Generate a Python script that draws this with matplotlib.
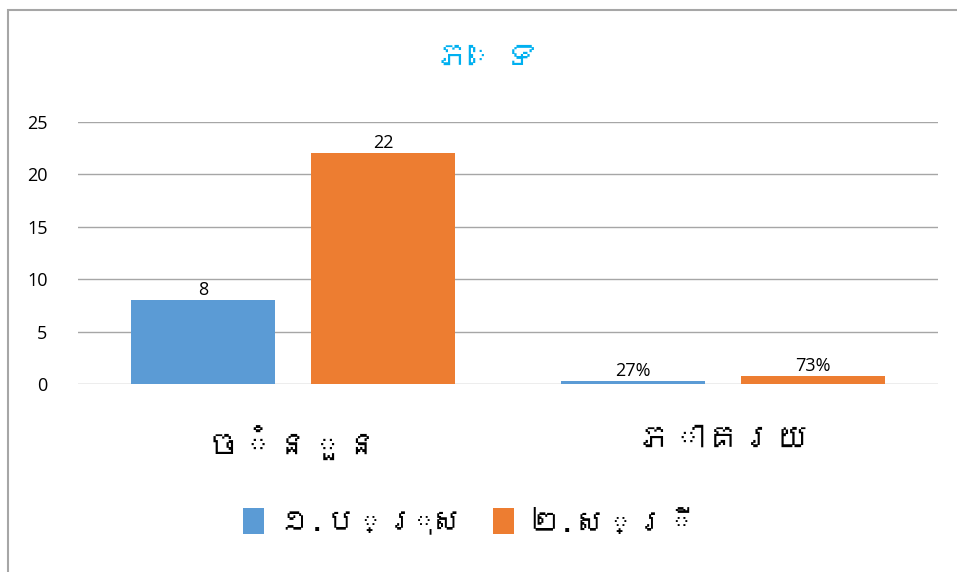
import matplotlib
matplotlib.use('Agg')
import matplotlib.pyplot as plt
from matplotlib import font_manager
from matplotlib.patches import Rectangle
import numpy as np

categories = ['ចំនួន', 'ភាគរយ']
series_names = ['១.ប្រុស', '២.ស្រី']
men = [8, 0.27]
women = [22, 0.73]
men_labels = ['8', '27%']
women_labels = ['22', '73%']
title = 'ភេទ'
yticks = [0, 5, 10, 15, 20, 25]

# look for an installed font that has Khmer glyphs
khmer_font = None
for path in font_manager.findSystemFonts():
    try:
        from fontTools.ttLib import TTFont
        tt = TTFont(path, fontNumber=0, lazy=True)
        cmap = tt.getBestCmap() or {}
        if 0x1797 in cmap and 0x1785 in cmap:
            khmer_font = font_manager.FontProperties(fname=path).get_name()
            break
    except Exception:
        pass

kh_family = ([khmer_font] if khmer_font else []) + ['DejaVu Sans']
num_family = ['Open Sans', 'DejaVu Sans']

W, H = 957, 572
fig = plt.figure(figsize=(W / 100, H / 100), dpi=100)
ax = fig.add_axes([78 / W, 1 - 384 / H, 860 / W, (384 - 122) / H])

x = np.arange(len(categories))
bw = 0.335
gap = 0.084
off = (bw + gap) / 2
b1 = ax.bar(x - off, men, bw, color='#5B9BD5', label=series_names[0])
b2 = ax.bar(x + off, women, bw, color='#ED7D31', label=series_names[1])

for bars, labs in ((b1, men_labels), (b2, women_labels)):
    for r, t in zip(bars, labs):
        ax.text(r.get_x() + r.get_width() / 2, r.get_height() + 0.1, t,
                ha='center', va='bottom', fontsize=13, family=num_family)

ax.set_xlim(-0.5, 1.5)
ax.set_ylim(0, 25)
ax.set_yticks(yticks)
ax.set_yticklabels([str(v) for v in yticks], family=num_family, fontsize=13)
ax.set_xticks(x)
ax.set_xticklabels(categories, family=kh_family, fontsize=25)
ax.tick_params(axis='both', length=0)
ax.tick_params(axis='y', pad=22)
ax.tick_params(axis='x', pad=30)
ax.grid(axis='y', color='#A6A6A6', linewidth=1)
ax.set_axisbelow(True)
for s in ax.spines.values():
    s.set_visible(False)

fig.text(487 / W, 1 - 57 / H, title, ha='center', va='center', color='#00B0F0',
         fontsize=25, fontweight='bold', family=kh_family)

fig.legend(loc='center', bbox_to_anchor=(470 / W, 1 - 522 / H), ncol=2,
           frameon=False, prop={'family': kh_family, 'size': 22},
           handlelength=0.7, handleheight=0.9, handletextpad=0.5, columnspacing=1.0)

fig.patches.append(Rectangle((8 / W, -0.1), 1.2, 1 - 10 / H + 0.1,
                             transform=fig.transFigure, fill=False,
                             edgecolor='#A6A6A6', linewidth=1.5))

fig.savefig('out.png', dpi=100)
